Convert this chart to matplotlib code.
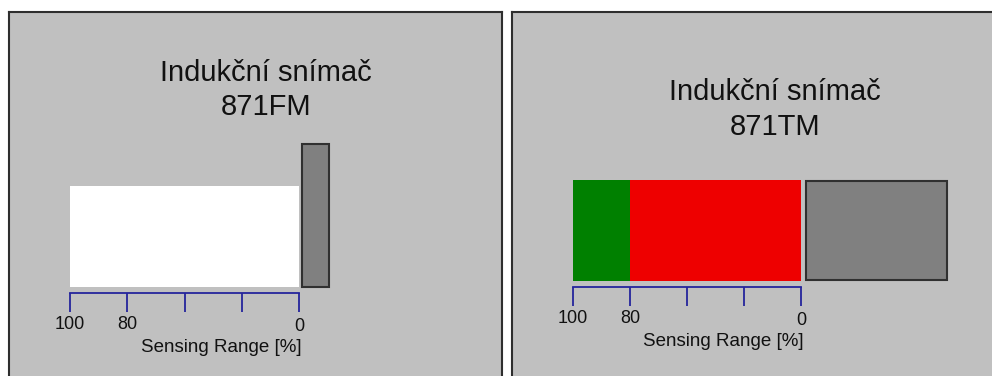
import matplotlib
matplotlib.use("Agg")
import matplotlib.pyplot as plt
from matplotlib.transforms import ScaledTranslation

plt.rcParams['font.family'] = ['Liberation Sans', 'DejaVu Sans']

# ---- data ----
title_prefix = "Indukční snímač"
sensors = ["871FM", "871TM"]
scale_tick_labels = ["100", "80", "", "", "0"]
axis_label = "Sensing Range [%]"

# zones along the scale, in tick-step units (100 -> 0, 80 -> 1, 0 -> 4)
fm_zone_starts = [0.0]
fm_zone_widths = [4.0]
fm_zone_colors = ["#FFFFFF"]
fm_target = dict(start=4.05, width=0.47, bottom=0.0, height=1.42)

tm_zone_starts = [0.0, 1.0]
tm_zone_widths = [1.0, 3.0]
tm_zone_colors = ["#008000", "#EE0000"]
tm_target = dict(start=4.09, width=2.47, bottom=0.01, height=0.98)

W, H = 992, 376
fig = plt.figure(figsize=(W / 100, H / 100), dpi=100)
fig.patch.set_facecolor("white")

NAVY = "#24249C"


def frac(x0, y0, x1, y1):
    return [x0 / W, 1 - y1 / H, (x1 - x0) / W, (y1 - y0) / H]


def panel(box):
    ax = fig.add_axes(frac(*box))
    ax.set_facecolor("#C0C0C0")
    ax.set_xticks([]); ax.set_yticks([])
    for s in ax.spines.values():
        s.set_color("#2E2E2E"); s.set_linewidth(1.5)
    return ax


def gauge(tick0_px, unit_px, bar_bottom_px, starts, widths, colors, target):
    umin, umax = -0.5, 6.8
    vmin, vmax = -0.06, 1.5
    ppv = 101.0
    x0 = tick0_px + umin * unit_px
    x1 = tick0_px + umax * unit_px
    y_top = bar_bottom_px - vmax * ppv
    y_bot = bar_bottom_px - vmin * ppv
    ax = fig.add_axes(frac(x0, y_top, x1, y_bot))
    ax.set_xlim(umin, umax)
    ax.set_ylim(vmin, vmax)
    ax.patch.set_visible(False)
    for k in ("top", "right", "left"):
        ax.spines[k].set_visible(False)
    ax.spines["bottom"].set_bounds(0, 4)
    ax.spines["bottom"].set_color(NAVY)
    ax.spines["bottom"].set_linewidth(1.3)
    ax.set_yticks([])
    ax.set_xticks(range(len(scale_tick_labels)))
    ax.set_xticklabels(scale_tick_labels, fontsize=13, color="#111111")
    ax.tick_params(axis="x", direction="out", length=13.7, width=1.3,
                   color=NAVY, pad=3)
    # the "0" label sits slightly lower in the reference
    last = ax.get_xticklabels()[-1]
    last.set_transform(last.get_transform() + ScaledTranslation(0, -2 / 100, fig.dpi_scale_trans))
    ax.bar(starts, [1.0] * len(starts), width=widths, bottom=0, align="edge",
           color=colors, linewidth=0, clip_on=False)
    ax.bar([target["start"]], [target["height"]], width=target["width"],
           bottom=target["bottom"], align="edge", color="#808080",
           edgecolor="#303030", linewidth=1.5, clip_on=False)
    ax.set_xlabel(axis_label, fontsize=13.5, color="#111111", ha="right",
                  x=(4.05 - umin) / (umax - umin), labelpad=3)
    return ax


# left panel
panel((9, 12, 502, 400))
# right panel
panel((512, 12, 1010, 400))

# titles (two lines each)
fig.text(266 / W, 1 - 81 / H, title_prefix, ha="center", va="baseline", fontsize=21, color="#111111")
fig.text(266 / W, 1 - 115 / H, sensors[0], ha="center", va="baseline", fontsize=21, color="#111111")
fig.text(775 / W, 1 - 100 / H, title_prefix, ha="center", va="baseline", fontsize=21, color="#111111")
fig.text(775 / W, 1 - 135 / H, sensors[1], ha="center", va="baseline", fontsize=21, color="#111111")

gauge(70, 57.25, 287, fm_zone_starts, fm_zone_widths, fm_zone_colors, fm_target)
gauge(573, 57.0, 281, tm_zone_starts, tm_zone_widths, tm_zone_colors, tm_target)

fig.savefig("out.png", dpi=100, facecolor=fig.get_facecolor())
